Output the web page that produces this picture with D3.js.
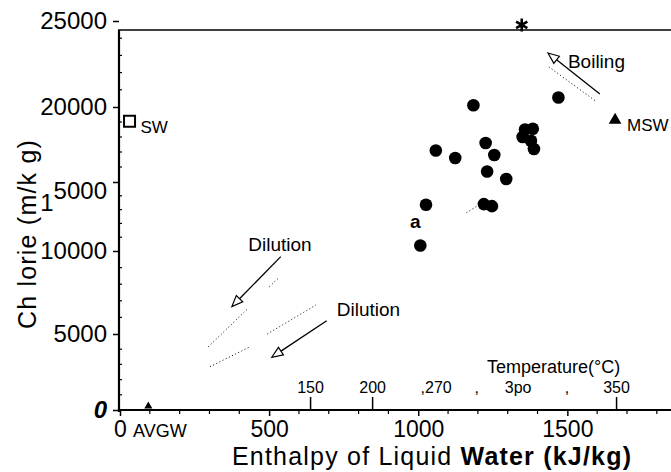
<!DOCTYPE html>
<html>
<head>
<meta charset="utf-8">
<script src="https://cdn.jsdelivr.net/npm/d3@7"></script>
<style>
  body { margin: 0; background: #fff; }
  svg { display: block; font-family: "Liberation Sans", Arial, Helvetica, sans-serif; color: #000; }
</style>
</head>
<body>
<div id="chart"></div>
<script>
// enthalpy (kJ/kg) and chloride (mg/kg) of the well discharges
const wellEnthalpy = [1185, 1470, 1358, 1384, 1350, 1378, 1388, 1226, 1255, 1059, 1124, 1231, 1295, 1026, 1220, 1247, 1007];
const wellChloride = [20100, 20550, 18500, 18550, 18000, 17750, 17200, 17600, 16800, 17100, 16600, 15700, 15200, 13350, 13400, 13250, 10400];

// end members
const memberNames = ["SW", "MSW", "AVGW", "*"];
const memberEnthalpy = [32, 1660, 95, 1347];
const memberChloride = [19050, 19130, 250, 24770];

// axis ticks
const xTicks = [0, 500, 1000, 1500];
const yTicks = [0, 5000, 10000, 15000, 20000, 25000];

// temperature scale along the enthalpy axis
const tempTickLabels = ["150", "200", "350"];
const tempTickEnthalpy = [639, 847, 1665];
const tempOtherLabels = [",270", ",", "3po", ","];
const tempOtherEnthalpy = [1060, 1196, 1335, 1499];

// dotted mixing / boiling trends [[h, cl], [h, cl]]
const trendLines = [
  [[1438, 22330], [1599, 20290]],
  [[296, 4160], [430, 6550]],
  [[501, 7850], [534, 8420]],
  [[302, 2850], [436, 4160]],
  [[494, 5000], [657, 6750]],
  [[1162, 12780], [1212, 13460]]
];

// process arrows
const arrowNames = ["Boiling", "Dilution", "Dilution"];
const arrowFrom = [[1609, 20760], [539, 9660], [693, 5800]];
const arrowTo = [[1435, 23140], [375, 6650], [509, 3470]];
const arrowLabelAt = [[1502, 22270], [430, 10000], [727, 6080]];

const width = 671, height = 472;

const svg = d3.select("#chart")
  .append("svg")
  .attr("width", width)
  .attr("height", height);

const x = d3.scaleLinear().domain([0, 1700]).range([120, 627]);
// scanned figure: tick spacing is not even, so map each labelled tick
const y = d3.scaleLinear().domain(yTicks).range([410, 334, 251, 182, 107, 21]);

const frameTop = 30;
const axisX = x(0) - 1;

// frame
svg.append("line")
  .attr("x1", axisX - 1).attr("x2", width)
  .attr("y1", frameTop).attr("y2", frameTop)
  .attr("stroke", "#000").attr("stroke-width", 1.6);

svg.append("line")
  .attr("x1", axisX).attr("x2", axisX)
  .attr("y1", frameTop).attr("y2", y(0) + 2)
  .attr("stroke", "#000").attr("stroke-width", 2.2);

svg.append("line")
  .attr("x1", axisX).attr("x2", width)
  .attr("y1", y(0)).attr("y2", y(0))
  .attr("stroke", "#000").attr("stroke-width", 2);

// y axis
const yAxis = svg.append("g")
  .attr("transform", `translate(${axisX},0)`)
  .call(d3.axisLeft(y).tickValues(yTicks).tickSize(6).tickPadding(6).tickSizeOuter(0).tickFormat(d3.format("d")));
yAxis.select(".domain").remove();
yAxis.selectAll("line").attr("stroke-width", 1.5);
yAxis.selectAll("text")
  .attr("font-family", null)
  .style("font-size", "24px");

// the 15000 label: the "1" slipped down in the scan
yAxis.selectAll("text").filter(d => d === 15000)
  .text(null)
  .call(t => {
    t.append("tspan").attr("dy", "1.2em").text("1");
    t.append("tspan").attr("dy", "-0.5em").text("5000");
  });
yAxis.selectAll("text").filter(d => d === 0)
  .style("font-style", "italic").style("font-weight", "bold");

// y minor ticks
svg.append("g")
  .selectAll("line")
  .data(d3.range(1000, 25000, 1000).filter(v => v % 5000 !== 0))
  .join("line")
  .attr("x1", axisX).attr("x2", axisX + 3)
  .attr("y1", d => y(d)).attr("y2", d => y(d))
  .attr("stroke", "#000").attr("stroke-width", 1.2);

// x axis
const xAxis = svg.append("g")
  .attr("transform", `translate(0,${y(0)})`)
  .call(d3.axisBottom(x).tickValues(xTicks).tickSize(6).tickPadding(5).tickSizeOuter(0).tickFormat(d3.format("d")));
xAxis.select(".domain").remove();
xAxis.selectAll("line").attr("stroke-width", 1.5);
xAxis.selectAll("text")
  .attr("font-family", null)
  .style("font-size", "23px");

svg.append("g")
  .selectAll("line")
  .data(d3.range(100, 1900, 100).filter(v => v % 500 !== 0))
  .join("line")
  .attr("x1", d => x(d)).attr("x2", d => x(d))
  .attr("y1", y(0)).attr("y2", y(0) + 4)
  .attr("stroke", "#000").attr("stroke-width", 1.2);

// temperature ticks along the axis
svg.append("g")
  .selectAll("line")
  .data(tempTickEnthalpy)
  .join("line")
  .attr("x1", d => x(d)).attr("x2", d => x(d))
  .attr("y1", y(0)).attr("y2", y(0) - 13)
  .attr("stroke", "#000").attr("stroke-width", 1.5);

svg.append("g")
  .selectAll("text")
  .data(tempTickLabels.map((t, i) => [t, tempTickEnthalpy[i]])
    .concat(tempOtherLabels.map((t, i) => [t, tempOtherEnthalpy[i]])))
  .join("text")
  .attr("x", d => x(d[1]))
  .attr("y", y(0) - 17)
  .attr("text-anchor", "middle")
  .style("font-size", "16px")
  .text(d => d[0]);

svg.append("text")
  .attr("x", 487)
  .attr("y", y(0) - 37)
  .style("font-size", "18px")
  .text("Temperature(°C)");

// axis titles (the scan spreads the letters a little)
svg.append("text")
  .attr("x", 232)
  .attr("y", 465)
  .style("font-size", "25px")
  .style("letter-spacing", "1.2px")
  .call(t => {
    t.append("tspan").text("Enthalpy of Liquid ");
    t.append("tspan").style("font-weight", "bold").text("Water (kJ/kg)");
  });

svg.append("text")
  .attr("transform", "translate(36,234) rotate(-90)")
  .attr("text-anchor", "middle")
  .style("font-size", "25px")
  .style("letter-spacing", "1.2px")
  .text("Ch lorie (m/k g)");

// dotted trends
svg.append("g")
  .selectAll("line")
  .data(trendLines)
  .join("line")
  .attr("x1", d => x(d[0][0])).attr("y1", d => y(d[0][1]))
  .attr("x2", d => x(d[1][0])).attr("y2", d => y(d[1][1]))
  .attr("stroke", "#000")
  .attr("stroke-width", 1)
  .attr("stroke-dasharray", "1,2.5");

// arrows with open heads
const arrows = svg.append("g")
  .selectAll("g")
  .data(arrowNames.map((n, i) => ({ name: n, from: arrowFrom[i], to: arrowTo[i], at: arrowLabelAt[i] })))
  .join("g");

arrows.each(function (d) {
  const g = d3.select(this);
  const x1 = x(d.from[0]), y1 = y(d.from[1]);
  const x2 = x(d.to[0]), y2 = y(d.to[1]);
  const len = Math.hypot(x2 - x1, y2 - y1);
  const ux = (x2 - x1) / len, uy = (y2 - y1) / len;
  const headL = 11, headW = 4.5;
  const bx = x2 - ux * headL, by = y2 - uy * headL;
  g.append("line")
    .attr("x1", x1).attr("y1", y1).attr("x2", bx).attr("y2", by)
    .attr("stroke", "#000").attr("stroke-width", 1.3);
  g.append("path")
    .attr("d", `M${x2},${y2}L${bx - uy * headW},${by + ux * headW}L${bx + uy * headW},${by - ux * headW}Z`)
    .attr("fill", "#fff").attr("stroke", "#000").attr("stroke-width", 1.2);
  g.append("text")
    .attr("x", x(d.at[0])).attr("y", y(d.at[1]))
    .style("font-size", "19px")
    .text(d.name);
});

// well data
svg.append("g")
  .selectAll("circle")
  .data(wellEnthalpy.map((h, i) => [h, wellChloride[i]]))
  .join("circle")
  .attr("cx", d => x(d[0]))
  .attr("cy", d => y(d[1]))
  .attr("r", 6.3)
  .attr("fill", "#000");

// label on the lowest-chloride well
const last = wellEnthalpy.length - 1;
svg.append("text")
  .attr("x", x(wellEnthalpy[last]) - 5)
  .attr("y", y(wellChloride[last]) - 17)
  .attr("text-anchor", "middle")
  .style("font-size", "19px")
  .style("font-weight", "bold")
  .text("a");

// end members
const members = memberNames.map((n, i) => ({ name: n, h: memberEnthalpy[i], cl: memberChloride[i] }));

const sw = members[0];
svg.append("rect")
  .attr("x", x(sw.h) - 5.5).attr("y", y(sw.cl) - 5.5)
  .attr("width", 11).attr("height", 11)
  .attr("fill", "#fff").attr("stroke", "#000").attr("stroke-width", 2);
svg.append("text")
  .attr("x", x(sw.h) + 11).attr("y", y(sw.cl) + 12)
  .style("font-size", "17px")
  .text(sw.name);

const msw = members[1];
svg.append("path")
  .attr("transform", `translate(${x(msw.h)},${y(msw.cl)})`)
  .attr("d", d3.symbol(d3.symbolTriangle, 70)())
  .attr("fill", "#000");
svg.append("text")
  .attr("x", x(msw.h) + 12).attr("y", y(msw.cl) + 11)
  .style("font-size", "17px")
  .text(msw.name);

const avgw = members[2];
svg.append("path")
  .attr("transform", `translate(${x(avgw.h)},${y(avgw.cl)})`)
  .attr("d", d3.symbol(d3.symbolTriangle, 28)())
  .attr("fill", "#000");
svg.append("text")
  .attr("x", x(0) + 13).attr("y", y(0) + 27)
  .style("font-size", "18px")
  .text(avgw.name);

const star = members[3];
const starPath = d3.path();
[90, 30, 150].forEach(a => {
  const r = 6.5, t = a * Math.PI / 180;
  starPath.moveTo(-r * Math.cos(t), -r * Math.sin(t));
  starPath.lineTo(r * Math.cos(t), r * Math.sin(t));
});
svg.append("path")
  .attr("transform", `translate(${x(star.h)},${y(star.cl)})`)
  .attr("d", starPath.toString())
  .attr("stroke", "#000")
  .attr("stroke-width", 2.6);
</script>
</body>
</html>
